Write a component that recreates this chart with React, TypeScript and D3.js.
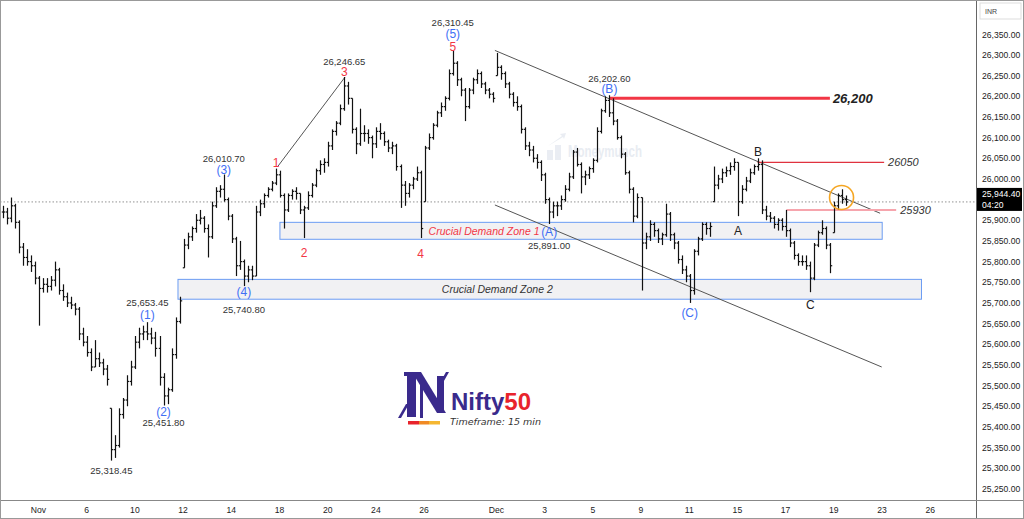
import React from "react";
import * as d3 from "d3";

const width = 1024;
const height = 519;

// hourly-ish bars, 6 per session (Oct 30 partial .. Dec 19 partial)
const highs = [
  25935, 25930, 25955,
  25940, 25900, 25845, 25830, 25815, 25800,
  25765, 25760, 25760, 25765, 25800, 25785,
  25745, 25725, 25715, 25700, 25690, 25640,
  25620, 25590, 25610, 25580, 25565, 25550,
  25445, 25380, 25445, 25470, 25525, 25560,
  25620, 25640, 25645, 25653.45, 25640, 25630,
  25620, 25530, 25495, 25590, 25665, 25715,
  25855, 25870, 25885, 25915, 25925, 25910,
  25890, 25945, 25980, 25985, 26010.7, 25955,
  25915, 25860, 25850, 25805, 25790, 25790,
  25935, 25950, 25965, 25980, 25995, 26025,
  26020, 25965, 25965, 25975, 25980, 25965,
  25935, 25970, 25990, 26025, 26045, 26050,
  26090, 26120, 26140, 26180, 26246.65, 26235,
  26195, 26125, 26170, 26130, 26120, 26105,
  26125, 26135, 26115, 26095, 26090, 26085,
  26035, 25995, 25990, 26005, 26030, 26020,
  26080, 26110, 26135, 26165, 26185, 26200,
  26265, 26310.45, 26285, 26245, 26220, 26220,
  26245, 26265, 26260, 26235, 26220, 26210,
  26305, 26275, 26260, 26235, 26210, 26200,
  26180, 26125, 26090, 26080, 26060, 26045,
  26015, 25955, 25945, 25945, 25960, 25985,
  26015, 26070, 26075, 26040, 26020, 26030,
  26050, 26125, 26170, 26200, 26202.6, 26195,
  26145, 26105, 26065, 26020, 25980, 25965,
  25955, 25870, 25900, 25895, 25880, 25870,
  25940, 25920, 25870, 25850, 25815, 25790,
  25770, 25830, 25860, 25895, 25895, 25895,
  26030, 26010, 26025, 26030, 26040, 26050,
  26040, 25985, 26005, 26025, 26035, 26050,
  26045, 25935, 25920, 25910, 25905, 25905,
  25925, 25880, 25850, 25820, 25815, 25815,
  25800, 25845, 25875, 25900, 25885, 25845,
  25945, 25965, 25975, 25960,
];

const lows = [
  25905, 25890, 25895,
  25880, 25820, 25790, 25790, 25775, 25745,
  25645, 25725, 25725, 25730, 25740, 25720,
  25705, 25690, 25685, 25670, 25610, 25595,
  25570, 25535, 25545, 25545, 25525, 25500,
  25318.45, 25325, 25350, 25420, 25450, 25500,
  25540, 25590, 25610, 25610, 25600, 25570,
  25500, 25451.8, 25455, 25485, 25565, 25650,
  25785, 25830, 25850, 25870, 25890, 25870,
  25810, 25855, 25930, 25955, 25945, 25900,
  25845, 25765, 25780, 25740.8, 25750, 25755,
  25765, 25910, 25930, 25955, 25970, 25985,
  25955, 25880, 25920, 25950, 25950, 25915,
  25857, 25925, 25955, 25980, 26010, 26015,
  26030, 26070, 26105, 26130, 26165, 26180,
  26110, 26060, 26080, 26090, 26085, 26050,
  26075, 26095, 26080, 26065, 26060, 26020,
  25930, 25935, 25955, 25975, 25995, 25857,
  25945, 26070, 26095, 26125, 26150, 26165,
  26190, 26250, 26225, 26200, 26140, 26170,
  26205, 26230, 26220, 26205, 26195, 26185,
  26250, 26240, 26220, 26195, 26175, 26165,
  26110, 26070, 26055, 26040, 26025, 25995,
  25940, 25891, 25905, 25910, 25925, 25945,
  25970, 26000, 26030, 25965, 25985, 26000,
  26015, 26040, 26110, 26160, 26150, 26130,
  26095, 26050, 26010, 25965, 25895, 25905,
  25730, 25830, 25850, 25860, 25845, 25840,
  25860, 25850, 25830, 25795, 25770, 25750,
  25700, 25720, 25815, 25850, 25865, 25860,
  25945, 25975, 25990, 26005, 26010, 26020,
  25910, 25940, 25970, 25990, 26010, 26020,
  25915, 25900, 25895, 25880, 25875, 25875,
  25860, 25835, 25805, 25790, 25790, 25780,
  25726, 25755, 25835, 25865, 25830, 25772,
  25870, 25925, 25940, 25935,
];

const closes = [
  25920, 25905, 25935,
  25895, 25835, 25810, 25800, 25790, 25760,
  25735, 25745, 25740, 25755, 25780, 25730,
  25715, 25700, 25695, 25685, 25625, 25605,
  25580, 25545, 25565, 25555, 25540, 25515,
  25345, 25355, 25430, 25465, 25510, 25545,
  25605, 25625, 25630, 25625, 25615, 25590,
  25520, 25475, 25490, 25575, 25655, 25705,
  25840, 25860, 25880, 25900, 25905, 25880,
  25860, 25935, 25970, 25975, 25950, 25910,
  25855, 25790, 25800, 25765, 25780, 25765,
  25920, 25940, 25960, 25975, 25990, 26010,
  25960, 25925, 25960, 25970, 25965, 25925,
  25930, 25960, 25985, 26020, 26035, 26040,
  26080, 26115, 26135, 26170, 26225, 26195,
  26120, 26085, 26110, 26110, 26100, 26085,
  26115, 26110, 26090, 26075, 26080, 26030,
  25985, 25965, 25985, 26000, 26015, 25880,
  26075, 26100, 26130, 26160, 26175, 26195,
  26255, 26280, 26240, 26215, 26175, 26215,
  26240, 26255, 26230, 26215, 26205, 26195,
  26270, 26255, 26230, 26205, 26185, 26175,
  26120, 26080, 26070, 26050, 26040, 26010,
  25950, 25920, 25935, 25935, 25950, 25975,
  26005, 26065, 26035, 26005, 26010, 26025,
  26045, 26115, 26165, 26190, 26160, 26140,
  26100, 26060, 26015, 25975, 25910, 25955,
  25845, 25860, 25890, 25875, 25855, 25865,
  25915, 25865, 25845, 25805, 25780, 25765,
  25730, 25825, 25855, 25890, 25880, 25885,
  25985, 26000, 26015, 26020, 26030, 26040,
  25945, 25975, 25995, 26015, 26030, 26035,
  25925, 25910, 25905, 25890, 25900, 25885,
  25875, 25845, 25815, 25800, 25800, 25790,
  25760, 25840, 25870, 25880, 25840, 25790,
  25935, 25960, 25950, 25944.4,
];

const barsPerDay = 6;
const firstBar = 3; // first bar sits half way through the Oct 30 session

// session index (0 = Oct 30) where each date label sits
const tickDays = [2, 4, 6, 8, 10, 12, 14, 16, 18, 21, 23, 25, 27, 29, 31, 33, 35, 37, 39];
const tickLabels = ["Nov", "6", "10", "12", "14", "18", "20", "24", "26", "Dec", "3", "5", "9", "11", "15", "17", "19", "23", "26"];

const priceTicks = d3.range(25250, 26351, 50);
const lastPrice = 25944.4;

// demand zones: [startDay, endDay, low, high, labelDay]
const zone1 = [12.08, 37.07, 25854, 25895, 20.55];
const zone2 = [7.85, 38.7, 25709, 25757, 21.1];

// horizontal levels: [startDay, endDay, price]
const level26200 = [25.77, 34.9, 26195];
const level26050 = [31.9, 37.15, 26040];
const level25930 = [33.1, 37.65, 25925];

// trend lines: [bar, price, bar, price]
const trendLines = [
  [72.0, 26031, 88.7, 26246.65],
  [126.0, 26311, 221.9, 25917],
  [126.0, 25937, 222.3, 25545],
];

// wave labels: bar index, anchor (high/low), text, kind, baseline offset
const labels: [number, "h" | "l", string, string, number][] = [
  [27, "l", "25,318.45", "price", 13],
  [40, "l", "(2)", "blue", 10.5],
  [40, "l", "25,451.80", "price", 20.5],
  [36, "h", "(1)", "blue", -3.5],
  [36, "h", "25,653.45", "price", -16],
  [55, "h", "(3)", "blue", -1],
  [55, "h", "26,010.70", "price", -12.5],
  [60, "l", "(4)", "blue", 10],
  [60, "l", "25,740.80", "price", 27],
  [68, "h", "1", "red", -2],
  [75, "l", "2", "red", 19],
  [85, "h", "3", "red", -1.5],
  [85, "h", "26,246.65", "price", -12.5],
  [104, "l", "4", "red", 20],
  [112, "h", "5", "red", 0.5],
  [112, "h", "(5)", "blue", -13],
  [112, "h", "26,310.45", "price", -25],
  [136, "l", "(A)", "blue", 12],
  [136, "l", "25,891.00", "price", 25.5],
  [151, "h", "(B)", "blue", -2],
  [151, "h", "26,202.60", "price", -13],
  [171, "l", "(C)", "blue", 14],
  [183, "l", "A", "dark", 19],
  [188, "h", "B", "dark", -2],
  [201, "l", "C", "dark", 17],
];

const x = d3.scaleLinear().domain([0, 240]).range([-11.2, -11.2 + 240 * 4.0167]);
const y = d3.scaleLinear().domain([25250, 26350]).range([488.9, 34.3]);
const dayX = (d: number) => x(d * barsPerDay);
const barX = (i: number) => x(firstBar + i + 0.5);

const font = "'Liberation Sans', Arial, sans-serif";
const plotRight = 976;
const axisY = 500;

const colors: Record<string, string> = {
  price: "#333",
  blue: "#3f6ff5",
  red: "#f23645",
  dark: "#222",
};

function Bars() {
  const bars = closes.map((c, i) => {
    const hi = highs[i], lo = lows[i];
    const prev = i > 0 ? closes[i - 1] : c;
    const o = Math.max(lo, Math.min(hi, prev));
    const cx = Math.round(barX(i)) + 0.5;
    return (
      <g key={i}>
        <line x1={cx} x2={cx} y1={y(hi)} y2={y(lo)} />
        <line x1={cx - 1.7} x2={cx} y1={y(o)} y2={y(o)} />
        <line x1={cx} x2={cx + 1.7} y1={y(c)} y2={y(c)} />
      </g>
    );
  });
  return <g stroke="#111" strokeWidth={1.2}>{bars}</g>;
}

function Zone({ z, text, color }: { z: number[]; text: string; color: string }) {
  const x0 = dayX(z[0]), x1 = dayX(z[1]);
  const y0 = y(z[3]), y1 = y(z[2]);
  return (
    <g>
      <rect x={x0} y={y0} width={x1 - x0} height={y1 - y0} fill="#eeeff1" fillOpacity={0.85} stroke="#6b9cf3" strokeWidth={1} />
      <text x={dayX(z[4])} y={(y0 + y1) / 2 + 4} textAnchor="middle"
        fontFamily={font} fontStyle="italic" fontSize={10.5} fill={color}>{text}</text>
    </g>
  );
}

function Logo() {
  const purple = "#3a2a8c";
  return (
    <g>
      <path d="M407,372 L416,372 L416,417 L407,417 Z" fill={purple} />
      <path d="M404,372 L420,372 L420,376 L404,376 Z" fill={purple} />
      <path d="M412,372 L421,372 L446,413 L437,413 Z" fill={purple} />
      <path d="M437,376 L444,376 L444,410 L437,410 Z" fill={purple} />
      <path d="M446,372 L449,372 L440,388 L437,388 Z" fill={purple} />
      <path d="M406,404 L409,404 L401,418 L398,418 Z" fill={purple} />
      <path d="M420,384 L423,384 L423,418 L420,418 Z" fill={purple} />
      <rect x={408} y={421} width={11} height={3.5} fill="#e8242c" />
      <rect x={419} y={421} width={10} height={3.5} fill="#f08a24" />
      <rect x={429} y={421} width={11} height={3.5} fill="#f5b731" />
      <text x={451} y={410} fontFamily={font} fontWeight="bold" fontSize={24} fill={purple}>
        Nifty<tspan fill="#e8242c">50</tspan>
      </text>
      <text x={450} y={425} fontFamily="'DejaVu Sans', sans-serif" fontStyle="italic" fontSize={9.5} fill="#333">Timeframe: 15 min</text>
    </g>
  );
}

export default function App() {
  const yLast = y(lastPrice);
  const axisTicks = priceTicks.filter(p => Math.abs(y(p) - yLast) > 12);
  return (
    <svg width={width} height={height} style={{ position: "absolute", left: 0, top: 0, background: "#fff" }}>
      <rect x={0} y={0} width={width} height={height} fill="#fff" />

      {/* watermark */}
      <g opacity={0.55}>
        <path d="M547,160 L547,150 L553,150 L553,160 Z M555,160 L555,145 L561,145 L561,160 Z M548,146 L562,136 L560,134 L566,133 L564,139 L563,137 Z" fill="#d9e0ea" />
        <text x={568} y={157} fontFamily={font} fontWeight="bold" fontSize={16} fill="#d6dde8" textLength={74} lengthAdjust="spacingAndGlyphs">Moneymunch</text>
      </g>

      {/* last price dotted line */}
      <line x1={0} x2={plotRight} y1={yLast} y2={yLast} stroke="#777" strokeWidth={0.8} strokeDasharray="1.5,2" />

      <Zone z={zone1} text="Crucial Demand Zone 1" color="#f23645" />
      <Zone z={zone2} text="Crucial Demand Zone 2" color="#333" />

      {/* trend lines */}
      <g stroke="#555" strokeWidth={1}>
        {trendLines.map((t, i) => (
          <line key={i} x1={x(t[0])} y1={y(t[1])} x2={x(t[2])} y2={y(t[3])} />
        ))}
      </g>

      {/* levels */}
      <line x1={dayX(level26200[0])} x2={dayX(level26200[1])} y1={y(level26200[2])} y2={y(level26200[2])} stroke="#f23645" strokeWidth={3} />
      <text x={dayX(level26200[1]) + 3} y={y(level26200[2]) + 5} fontFamily={font} fontWeight="bold" fontStyle="italic" fontSize={13} fill="#222">26,200</text>
      <line x1={dayX(level26050[0])} x2={dayX(level26050[1])} y1={y(level26050[2])} y2={y(level26050[2])} stroke="#e0323f" strokeWidth={1.3} />
      <text x={dayX(level26050[1]) + 4} y={y(level26050[2]) + 4} fontFamily={font} fontStyle="italic" fontSize={11} fill="#333">26050</text>
      <line x1={dayX(level25930[0])} x2={dayX(level25930[1])} y1={y(level25930[2])} y2={y(level25930[2])} stroke="#f6a5ad" strokeWidth={2} />
      <text x={dayX(level25930[1]) + 4} y={y(level25930[2]) + 4} fontFamily={font} fontStyle="italic" fontSize={11} fill="#333">25930</text>

      <Bars />

      {/* breakout circle */}
      <circle cx={x(212.3)} cy={y(25955)} r={12} fill="none" stroke="#f5a623" strokeWidth={1.6} />

      {/* wave labels */}
      {labels.map(([i, side, text, kind, dy], k) => (
        <text key={k} x={barX(i)} y={(side === "h" ? y(highs[i]) : y(lows[i])) + dy} textAnchor="middle"
          fontFamily={font} fontSize={kind === "price" ? 9.5 : 12} fill={colors[kind]}>{text}</text>
      ))}

      <Logo />

      {/* price axis */}
      <line x1={plotRight + 0.5} x2={plotRight + 0.5} y1={0} y2={height} stroke="#666" />
      <line x1={0} x2={width} y1={axisY + 0.5} y2={axisY + 0.5} stroke="#888" />
      <rect x={0.5} y={0.5} width={width - 1} height={height - 1} fill="none" stroke="#999" />
      {axisTicks.map(p => (
        <text key={p} x={982} y={y(p) + 3.2} fontFamily={font} fontSize={8.6} fill="#222">{d3.format(",.2f")(p)}</text>
      ))}
      <rect x={980} y={3} width={41} height={16} fill="#fff" stroke="#ddd" />
      <text x={985} y={14} fontFamily={font} fontSize={7} fill="#444">INR</text>
      <rect x={977} y={yLast - 14} width={45} height={23} fill="#000" />
      <text x={982} y={yLast - 5} fontFamily={font} fontSize={8.6} fill="#fff">{d3.format(",.2f")(lastPrice)}</text>
      <text x={982} y={yLast + 6} fontFamily={font} fontSize={8.6} fill="#fff">04:20</text>

      {/* time axis */}
      {tickDays.map((d, k) => (
        <text key={d} x={dayX(d) + 1.5} y={513} textAnchor="middle" fontFamily={font} fontSize={8.6} fill="#222">{tickLabels[k]}</text>
      ))}
    </svg>
  );
}
